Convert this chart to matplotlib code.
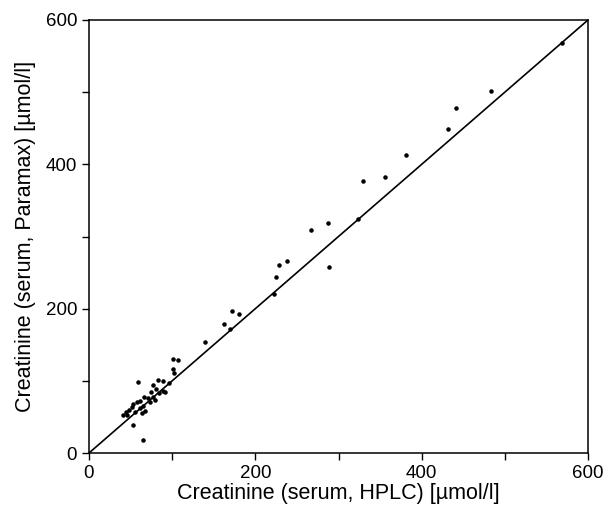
import matplotlib
matplotlib.use("Agg")
import matplotlib.pyplot as plt
from matplotlib.ticker import MultipleLocator

hplc = [569, 483, 441, 432, 381, 356, 329, 287, 267, 238, 228, 225, 222, 288, 323,
        172, 180, 162, 170, 139,
        101, 107, 101, 102, 59, 83, 89, 77, 81, 89, 84, 75, 77, 71, 66, 61, 58, 53,
        52, 48, 44, 41, 46, 55, 61, 65, 64, 67, 53, 65, 73, 79, 91, 96]
paramax = [568, 502, 478, 449, 413, 382, 377, 319, 309, 266, 260, 244, 220, 258, 324,
           197, 193, 179, 172, 154,
           130, 129, 116, 111, 98, 101, 100, 94, 89, 86, 83, 85, 78, 76, 78, 72, 71, 68,
           64, 60, 57, 53, 53, 57, 62, 65, 55, 58, 39, 18, 71, 73, 85, 97]
line_x = [0, 600]
x_ticks = [0, 200, 400, 600]
y_ticks = [0, 200, 400, 600]

plt.rcParams['font.family'] = ['Liberation Sans', 'DejaVu Sans']

fig = plt.figure(figsize=(6.04, 5.13), dpi=100)
ax = fig.add_axes([89/604, 60/513, 499/604, 433/513])
ax.plot(line_x, line_x, color='black', lw=1.2)
ax.scatter(hplc, paramax, s=5, color='black', zorder=3)
ax.set_xlim(0, 600)
ax.set_ylim(0, 600)
ax.set_xticks(x_ticks)
ax.set_yticks(y_ticks)
ax.xaxis.set_minor_locator(MultipleLocator(100))
ax.yaxis.set_minor_locator(MultipleLocator(100))
ax.tick_params(which='both', direction='out', length=5, width=1, labelsize=13.5, color='black')
for s in ax.spines.values():
    s.set_linewidth(1.1)
ax.set_xlabel('Creatinine (serum, HPLC) [µmol/l]', fontsize=15.5, labelpad=1)
ax.set_ylabel('Creatinine (serum, Paramax) [µmol/l]', fontsize=15.5, labelpad=7)
fig.savefig('out.png', dpi=100)
